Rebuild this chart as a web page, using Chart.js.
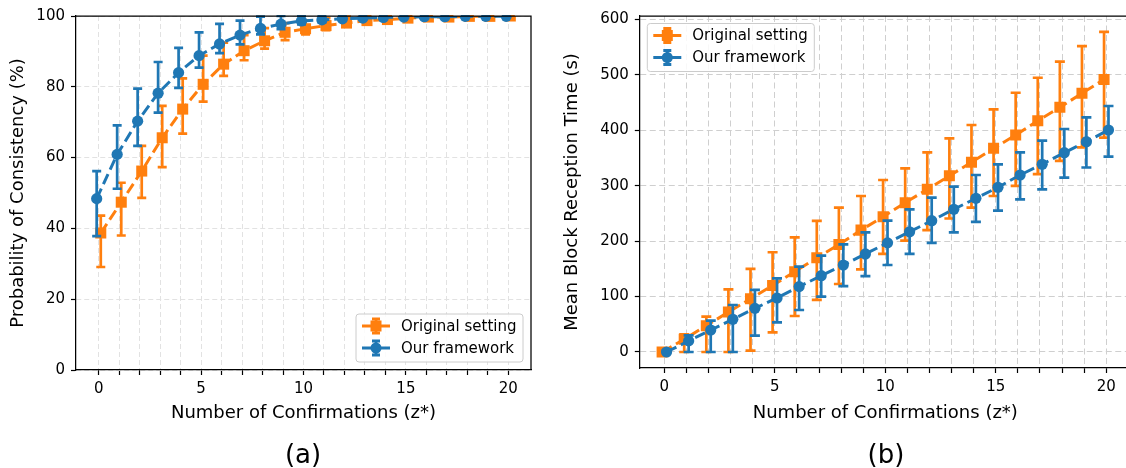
<!DOCTYPE html>
<html>
<head>
<meta charset="utf-8">
<script src="https://cdn.jsdelivr.net/npm/chart.js@4.4.0/dist/chart.umd.min.js"></script>
<style>
  body { margin: 0; width: 1126px; height: 468px; overflow: hidden; background: #fff; position: relative; font-family: "DejaVu Sans", sans-serif; }
  .wrap { position: absolute; top: 0; }
  .cap { position: absolute; top: 437px; width: 100px; margin-left: -50px; text-align: center; font-size: 26px; line-height: 34px; color: #000; }
</style>
</head>
<body>
<div class="wrap" style="left:0"><canvas id="chartA" width="545" height="468"></canvas></div>
<div class="wrap" style="left:545px"><canvas id="chartB" width="600" height="468"></canvas></div>
<div class="cap" style="left:303px">(a)</div>
<div class="cap" style="left:886px">(b)</div>
<script>
// number of confirmations z*
const zValues = [0, 1, 2, 3, 4, 5, 6, 7, 8, 9, 10, 11, 12, 13, 14, 15, 16, 17, 18, 19, 20];
const xTicks = [0, 1, 2, 3, 4, 5, 6, 7, 8, 9, 10, 11, 12, 13, 14, 15, 16, 17, 18, 19, 20];
const xLabelTicks = [0, 5, 10, 15, 20];
const yTicksA = [0, 20, 40, 60, 80, 100];
const yTicksB = [0, 100, 200, 300, 400, 500, 600];

// (a) probability of consistency (%)
const consOrig   = [38.7, 47.4, 56.2, 65.6, 73.7, 80.7, 86.4, 90.2, 93.0, 95.4, 96.4, 97.3, 98.0, 98.7, 99.0, 99.4, 99.7, 99.7, 99.9, 99.9, 100];
const consOrigLo = [29.1, 38.0, 48.6, 57.3, 66.8, 75.8, 83.1, 87.5, 90.8, 93.2, 94.8, 96.0, 97.0, 97.8, 98.3, 98.8, 99.2, 99.3, 99.6, 99.7, 99.8];
const consOrigHi = [43.6, 52.9, 63.3, 74.6, 82.4, 88.8, 92.5, 94.6, 96.6, 98.0, 98.8, 99.4, 99.8, 100, 100, 100, 100, 100, 100, 100, 100];
const consOurs   = [48.4, 60.9, 70.3, 78.2, 84.0, 88.8, 92.1, 94.6, 96.5, 97.7, 98.6, 98.9, 99.2, 99.4, 99.6, 99.7, 99.8, 99.8, 99.9, 99.9, 99.9];
const consOursLo = [37.8, 51.2, 63.3, 72.7, 79.7, 85.4, 89.5, 92.0, 94.8, 96.3, 97.6, 98.2, 98.7, 99.0, 99.3, 99.5, 99.6, 99.7, 99.8, 99.8, 99.8];
const consOursHi = [56.2, 69.1, 79.5, 87.0, 91.0, 95.4, 97.8, 98.7, 99.8, 100, 100, 100, 100, 100, 100, 100, 100, 100, 100, 100, 100];

// (b) mean block reception time (s)
const timeOrig   = [0, 23, 47.5, 72, 96, 120, 145, 170, 194, 220, 244, 269.5, 293.6, 318, 342.4, 367.6, 391.7, 417.5, 441.6, 467, 492];
const timeOrigLo = [0, 0, 0, 0, 2.3, 35.5, 65, 94, 122.7, 149, 177, 201, 220, 241, 260.5, 281.6, 300, 321, 345, 369.5, 386.8];
const timeOrigHi = [3, 32, 63.8, 113, 150, 180, 207, 236.5, 260.5, 281.6, 310.5, 331.5, 360.4, 385.7, 409.7, 438, 468, 495, 524, 552, 578];
const timeOurs   = [0, 20, 39.7, 59, 78.8, 97.5, 118, 137.7, 157, 177, 197, 217, 237, 257.6, 277.4, 297.3, 319.5, 338.8, 359.8, 379.6, 400.7];
const timeOursLo = [0, 0, 0, 0, 29.5, 53.6, 75.8, 99.8, 119, 137, 157, 177, 197, 216, 235, 255, 275.6, 293.6, 314.6, 333, 352.5];
const timeOursHi = [2, 30, 56.5, 84.8, 112, 133, 154, 174, 194.4, 216, 237, 257.6, 278.5, 298.4, 319.5, 338.8, 360.4, 381.4, 402.5, 423.6, 444];

const ORANGE = '#ff7f0e';
const BLUE = '#1f77b4';
const FONT = '"DejaVu Sans"';

Chart.defaults.font.family = FONT;
Chart.defaults.color = '#000';

// vertical error bars, drawn just before each dataset's line
const errorBars = {
  id: 'errorBars',
  beforeDatasetDraw(chart, args) {
    const ds = chart.data.datasets[args.index];
    if (!ds.errLo) return;
    const ctx = chart.ctx;
    const a = chart.chartArea;
    const y = chart.scales.y;
    ctx.save();
    ctx.beginPath();
    ctx.rect(a.left, a.top - 1, a.right - a.left, a.bottom - a.top + 2);
    ctx.clip();
    ctx.strokeStyle = ds.borderColor;
    ctx.lineWidth = ds.errWidth;
    ctx.setLineDash([]);
    const c = ds.capSize;
    args.meta.data.forEach((pt, i) => {
      const lo = y.getPixelForValue(ds.errLo[i]);
      const hi = y.getPixelForValue(ds.errHi[i]);
      ctx.beginPath();
      ctx.moveTo(pt.x, lo); ctx.lineTo(pt.x, hi);
      ctx.moveTo(pt.x - c, lo); ctx.lineTo(pt.x + c, lo);
      ctx.moveTo(pt.x - c, hi); ctx.lineTo(pt.x + c, hi);
      ctx.stroke();
    });
    ctx.restore();
  }
};

// top and right spines
const frame = {
  id: 'frame',
  afterDraw(chart) {
    const ctx = chart.ctx, a = chart.chartArea;
    ctx.save();
    ctx.strokeStyle = '#000';
    ctx.lineWidth = 1.25;
    ctx.beginPath();
    ctx.moveTo(a.left, a.top); ctx.lineTo(a.right, a.top); ctx.lineTo(a.right, a.bottom);
    ctx.stroke();
    ctx.restore();
  }
};

// matplotlib-like legend with errorbar handles
const errLegend = {
  id: 'errLegend',
  afterDraw(chart, args, opts) {
    const ctx = chart.ctx, a = chart.chartArea;
    const w = opts.width, h = opts.height;
    const left = opts.corner === 'br' ? a.right - opts.inset - w : a.left + opts.inset;
    const top = opts.corner === 'br' ? a.bottom - opts.inset - h : a.top + opts.inset;
    ctx.save();
    ctx.fillStyle = 'rgba(255,255,255,0.85)';
    ctx.strokeStyle = '#cccccc';
    ctx.lineWidth = 1;
    ctx.beginPath();
    ctx.roundRect(left, top, w, h, 3);
    ctx.fill();
    ctx.stroke();
    chart.data.datasets.forEach((ds, k) => {
      const yy = top + 12 + k * 22;
      const x0 = left + 6, x1 = left + 34, xm = (x0 + x1) / 2;
      ctx.strokeStyle = ds.borderColor;
      ctx.fillStyle = ds.borderColor;
      ctx.lineWidth = 2.8;
      ctx.beginPath();
      ctx.moveTo(x0, yy); ctx.lineTo(x1, yy);
      ctx.moveTo(xm, yy - 7); ctx.lineTo(xm, yy + 7);
      ctx.moveTo(xm - 4, yy - 7); ctx.lineTo(xm + 4, yy - 7);
      ctx.moveTo(xm - 4, yy + 7); ctx.lineTo(xm + 4, yy + 7);
      ctx.stroke();
      ctx.beginPath();
      if (ds.pointStyle === 'rect') ctx.rect(xm - 5.5, yy - 5.5, 11, 11);
      else ctx.arc(xm, yy, 5.5, 0, Math.PI * 2);
      ctx.fill();
      ctx.fillStyle = '#000';
      ctx.font = '15px ' + FONT;
      ctx.textBaseline = 'middle';
      ctx.fillText(ds.label, left + 45, yy + 1);
    });
    ctx.restore();
  }
};

function series(label, vals, lo, hi, shift, color, style, cap, order) {
  return {
    label: label,
    data: zValues.map((z, i) => ({ x: z + shift, y: vals[i] })),
    errLo: lo,
    errHi: hi,
    errWidth: 2.7,
    capSize: cap,
    borderColor: color,
    backgroundColor: color,
    borderWidth: 3,
    borderDash: [11, 5],
    pointStyle: style,
    pointRadius: style === 'rect' ? 7.8 : 5.6,
    pointBorderWidth: 0,
    pointBackgroundColor: color,
    tension: 0,
    order: order
  };
}

function makeOptions(cfg) {
  return {
    responsive: false,
    animation: false,
    devicePixelRatio: 1,
    layout: { padding: cfg.padding },
    plugins: {
      legend: { display: false },
      tooltip: { enabled: false },
      errLegend: cfg.legend
    },
    scales: {
      x: {
        type: 'linear',
        min: -1.11,
        max: cfg.xMax,
        afterBuildTicks: s => { s.ticks = xTicks.map(v => ({ value: v })); },
        afterFit: s => { s.height = cfg.xHeight; },
        ticks: {
          autoSkip: false, maxRotation: 0, padding: 5, color: '#000',
          font: { size: 15 },
          callback: v => xLabelTicks.includes(v) ? String(v) : ''
        },
        grid: { color: cfg.gridColor, lineWidth: 1, tickLength: 5, tickColor: '#000', tickWidth: 1.2 },
        border: { color: '#000', width: 1.25, dash: cfg.gridDash },
        title: { display: true, text: 'Number of Confirmations (z*)', color: '#000', font: { size: 18 }, padding: 0 }
      },
      y: {
        type: 'linear',
        min: cfg.yMin,
        max: cfg.yMax,
        afterBuildTicks: s => { s.ticks = cfg.yTicks.map(v => ({ value: v })); },
        afterFit: s => { s.width = cfg.yWidth; },
        ticks: { padding: 6, color: '#000', font: { size: 15 } },
        grid: { color: cfg.gridColor, lineWidth: 1, tickLength: 5, tickColor: '#000', tickWidth: 1.2 },
        border: { color: '#000', width: 1.25, dash: cfg.gridDash },
        title: { display: true, text: cfg.yTitle, color: '#000', font: { size: 18 }, padding: 0 }
      }
    }
  };
}

new Chart(document.getElementById('chartA'), {
  type: 'line',
  data: {
    datasets: [
      series('Original setting', consOrig, consOrigLo, consOrigHi, 0.1, ORANGE, 'rect', 4.5, 1),
      series('Our framework', consOurs, consOursLo, consOursHi, -0.1, BLUE, 'circle', 4.5, 0)
    ]
  },
  options: makeOptions({
    padding: { left: 8, top: 16, right: 14, bottom: 43.8 },
    xMax: 21.11, xHeight: 54.2,
    yMin: 0, yMax: 100, yTicks: yTicksA, yWidth: 68,
    yTitle: 'Probability of Consistency (%)',
    gridColor: '#e2e2e2', gridDash: [5, 3],
    legend: { corner: 'br', inset: 8, width: 167, height: 48 }
  }),
  plugins: [errorBars, frame, errLegend]
});

new Chart(document.getElementById('chartB'), {
  type: 'line',
  data: {
    datasets: [
      series('Original setting', timeOrig, timeOrigLo, timeOrigHi, -0.1, ORANGE, 'rect', 5, 1),
      series('Our framework', timeOurs, timeOursLo, timeOursHi, 0.1, BLUE, 'circle', 5, 0)
    ]
  },
  options: makeOptions({
    padding: { left: 17, top: 16, right: 14.2, bottom: 43.8 },
    xMax: 21.11, xHeight: 56.2,
    yMin: -28.9, yMax: 606.5, yTicks: yTicksB, yWidth: 77.8,
    yTitle: 'Mean Block Reception Time (s)',
    gridColor: '#cfcfcf', gridDash: [6, 3.5],
    legend: { corner: 'tl', inset: 7.5, width: 167, height: 48 }
  }),
  plugins: [errorBars, frame, errLegend]
});
</script>
</body>
</html>
